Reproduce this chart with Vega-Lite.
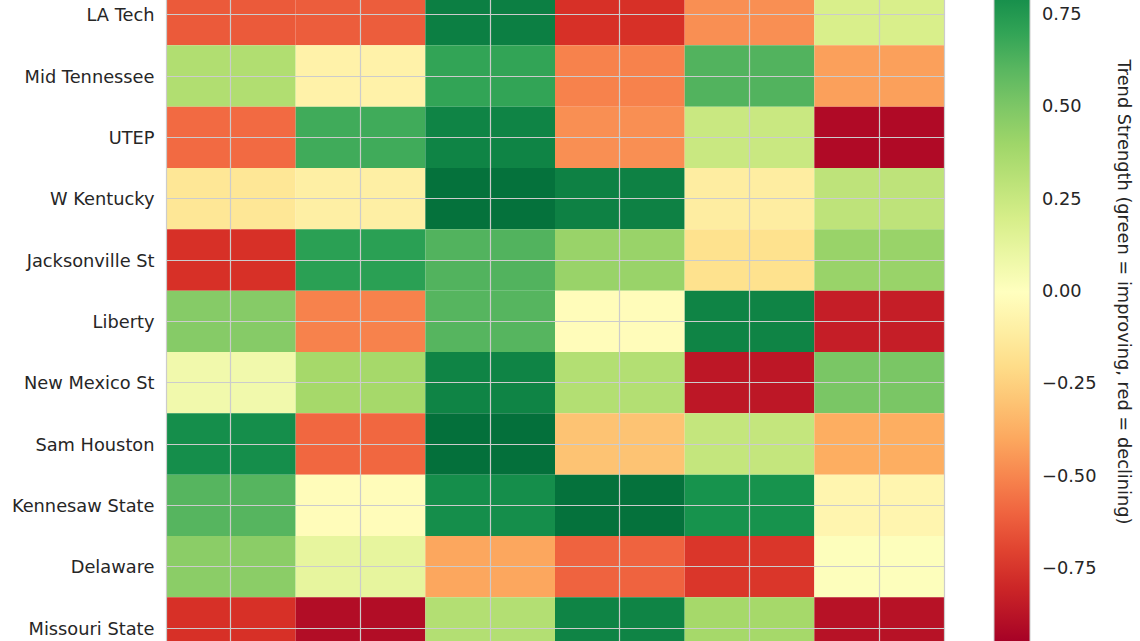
{
  "$schema": "https://vega.github.io/schema/vega-lite/v6.json",
  "width": 778,
  "height": 641,
  "autosize": {"type": "none"},
  "padding": {"left": 166, "top": 0, "right": 196, "bottom": 0},
  "background": "white",
  "data": {
    "values": [
      {"team": "LA Tech", "metric": "Metric 1", "trend": -0.63},
      {"team": "LA Tech", "metric": "Metric 2", "trend": -0.62},
      {"team": "LA Tech", "metric": "Metric 3", "trend": 0.86},
      {"team": "LA Tech", "metric": "Metric 4", "trend": -0.76},
      {"team": "LA Tech", "metric": "Metric 5", "trend": -0.47},
      {"team": "LA Tech", "metric": "Metric 6", "trend": 0.19},
      {"team": "Mid Tennessee", "metric": "Metric 1", "trend": 0.34},
      {"team": "Mid Tennessee", "metric": "Metric 2", "trend": -0.08},
      {"team": "Mid Tennessee", "metric": "Metric 3", "trend": 0.7},
      {"team": "Mid Tennessee", "metric": "Metric 4", "trend": -0.51},
      {"team": "Mid Tennessee", "metric": "Metric 5", "trend": 0.62},
      {"team": "Mid Tennessee", "metric": "Metric 6", "trend": -0.42},
      {"team": "UTEP", "metric": "Metric 1", "trend": -0.58},
      {"team": "UTEP", "metric": "Metric 2", "trend": 0.665},
      {"team": "UTEP", "metric": "Metric 3", "trend": 0.84},
      {"team": "UTEP", "metric": "Metric 4", "trend": -0.47},
      {"team": "UTEP", "metric": "Metric 5", "trend": 0.25},
      {"team": "UTEP", "metric": "Metric 6", "trend": -0.91},
      {"team": "W Kentucky", "metric": "Metric 1", "trend": -0.15},
      {"team": "W Kentucky", "metric": "Metric 2", "trend": -0.1},
      {"team": "W Kentucky", "metric": "Metric 3", "trend": 0.91},
      {"team": "W Kentucky", "metric": "Metric 4", "trend": 0.85},
      {"team": "W Kentucky", "metric": "Metric 5", "trend": -0.11},
      {"team": "W Kentucky", "metric": "Metric 6", "trend": 0.29},
      {"team": "Jacksonville St", "metric": "Metric 1", "trend": -0.76},
      {"team": "Jacksonville St", "metric": "Metric 2", "trend": 0.72},
      {"team": "Jacksonville St", "metric": "Metric 3", "trend": 0.62},
      {"team": "Jacksonville St", "metric": "Metric 4", "trend": 0.42},
      {"team": "Jacksonville St", "metric": "Metric 5", "trend": -0.18},
      {"team": "Jacksonville St", "metric": "Metric 6", "trend": 0.42},
      {"team": "Liberty", "metric": "Metric 1", "trend": 0.475},
      {"team": "Liberty", "metric": "Metric 2", "trend": -0.51},
      {"team": "Liberty", "metric": "Metric 3", "trend": 0.61},
      {"team": "Liberty", "metric": "Metric 4", "trend": -0.02},
      {"team": "Liberty", "metric": "Metric 5", "trend": 0.84},
      {"team": "Liberty", "metric": "Metric 6", "trend": -0.83},
      {"team": "New Mexico St", "metric": "Metric 1", "trend": 0.07},
      {"team": "New Mexico St", "metric": "Metric 2", "trend": 0.38},
      {"team": "New Mexico St", "metric": "Metric 3", "trend": 0.84},
      {"team": "New Mexico St", "metric": "Metric 4", "trend": 0.33},
      {"team": "New Mexico St", "metric": "Metric 5", "trend": -0.86},
      {"team": "New Mexico St", "metric": "Metric 6", "trend": 0.51},
      {"team": "Sam Houston", "metric": "Metric 1", "trend": 0.8},
      {"team": "Sam Houston", "metric": "Metric 2", "trend": -0.59},
      {"team": "Sam Houston", "metric": "Metric 3", "trend": 0.92},
      {"team": "Sam Houston", "metric": "Metric 4", "trend": -0.3},
      {"team": "Sam Houston", "metric": "Metric 5", "trend": 0.27},
      {"team": "Sam Houston", "metric": "Metric 6", "trend": -0.38},
      {"team": "Kennesaw State", "metric": "Metric 1", "trend": 0.61},
      {"team": "Kennesaw State", "metric": "Metric 2", "trend": -0.02},
      {"team": "Kennesaw State", "metric": "Metric 3", "trend": 0.8},
      {"team": "Kennesaw State", "metric": "Metric 4", "trend": 0.91},
      {"team": "Kennesaw State", "metric": "Metric 5", "trend": 0.78},
      {"team": "Kennesaw State", "metric": "Metric 6", "trend": -0.06},
      {"team": "Delaware", "metric": "Metric 1", "trend": 0.46},
      {"team": "Delaware", "metric": "Metric 2", "trend": 0.12},
      {"team": "Delaware", "metric": "Metric 3", "trend": -0.4},
      {"team": "Delaware", "metric": "Metric 4", "trend": -0.6},
      {"team": "Delaware", "metric": "Metric 5", "trend": -0.74},
      {"team": "Delaware", "metric": "Metric 6", "trend": 0.01},
      {"team": "Missouri State", "metric": "Metric 1", "trend": -0.76},
      {"team": "Missouri State", "metric": "Metric 2", "trend": -0.9},
      {"team": "Missouri State", "metric": "Metric 3", "trend": 0.33},
      {"team": "Missouri State", "metric": "Metric 4", "trend": 0.84},
      {"team": "Missouri State", "metric": "Metric 5", "trend": 0.38},
      {"team": "Missouri State", "metric": "Metric 6", "trend": -0.88}
    ]
  },
  "layer": [
    {
      "mark": {"type": "rect", "clip": true},
      "encoding": {
        "x": {
          "field": "metric",
          "type": "nominal",
          "sort": null,
          "scale": {"paddingInner": 0, "paddingOuter": 0},
          "axis": {
            "title": null,
            "labels": false,
            "ticks": false,
            "domain": false,
            "grid": true,
            "gridColor": "#cccccc",
            "gridWidth": 1.2,
            "bandPosition": 0.5,
            "zindex": 1
          }
        },
        "y": {
          "field": "team",
          "type": "nominal",
          "sort": null,
          "scale": {"range": [-16, 658.7], "paddingInner": 0, "paddingOuter": 0},
          "axis": {
            "title": null,
            "labelFont": "DejaVu Sans",
            "labelFontSize": 17.8,
            "labelColor": "#262626",
            "labelPadding": 12,
            "labelOffset": 1.5,
            "ticks": false,
            "tickSize": 0,
            "domain": true,
            "domainColor": "#cccccc",
            "domainWidth": 1.2,
            "grid": true,
            "gridColor": "#cccccc",
            "gridWidth": 1.2,
            "bandPosition": 0.5,
            "zindex": 1
          }
        },
        "color": {
          "field": "trend",
          "type": "quantitative",
          "scale": {
            "type": "linear",
            "interpolate": "rgb",
            "domain": [-0.95, -0.76, -0.57, -0.38, -0.19, 0, 0.19, 0.38, 0.57, 0.76, 0.95],
            "range": ["#a50026", "#d73027", "#f46d43", "#fdae61", "#fee08b", "#ffffbf", "#d9ef8b", "#a6d96a", "#66bd63", "#1a9850", "#006837"]
          },
          "legend": {
            "orient": "none",
            "legendX": 828,
            "legendY": -59,
            "padding": 0,
            "direction": "vertical",
            "gradientLength": 702,
            "gradientThickness": 36,
            "gradientStrokeColor": "#cccccc",
            "gradientStrokeWidth": 1,
            "values": [-0.75, -0.5, -0.25, 0, 0.25, 0.5, 0.75],
            "format": ".2f",
            "labelFont": "DejaVu Sans",
            "labelFontSize": 17.8,
            "labelColor": "#262626",
            "labelOffset": 12,
            "labelOverlap": false,
            "title": "Trend Strength (green = improving, red = declining)",
            "titleOrient": "right",
            "titleAnchor": "middle",
            "titleFont": "DejaVu Sans",
            "titleFontSize": 17.8,
            "titleFontWeight": "normal",
            "titleColor": "#262626",
            "titleLimit": 900,
            "titlePadding": 18
          }
        }
      }
    },
    {
      "mark": {"type": "tick", "opacity": 0},
      "encoding": {
        "y": {
          "field": "team",
          "type": "nominal",
          "sort": null,
          "scale": {"range": [-16, 658.7], "paddingInner": 0, "paddingOuter": 0},
          "axis": {
            "orient": "right",
            "title": null,
            "labels": false,
            "ticks": false,
            "grid": false,
            "domain": true,
            "domainColor": "#cccccc",
            "domainWidth": 1.2,
            "zindex": 1
          }
        }
      }
    }
  ],
  "resolve": {"axis": {"y": "independent"}},
  "config": {
    "font": "DejaVu Sans",
    "view": {"stroke": null}
  }
}
